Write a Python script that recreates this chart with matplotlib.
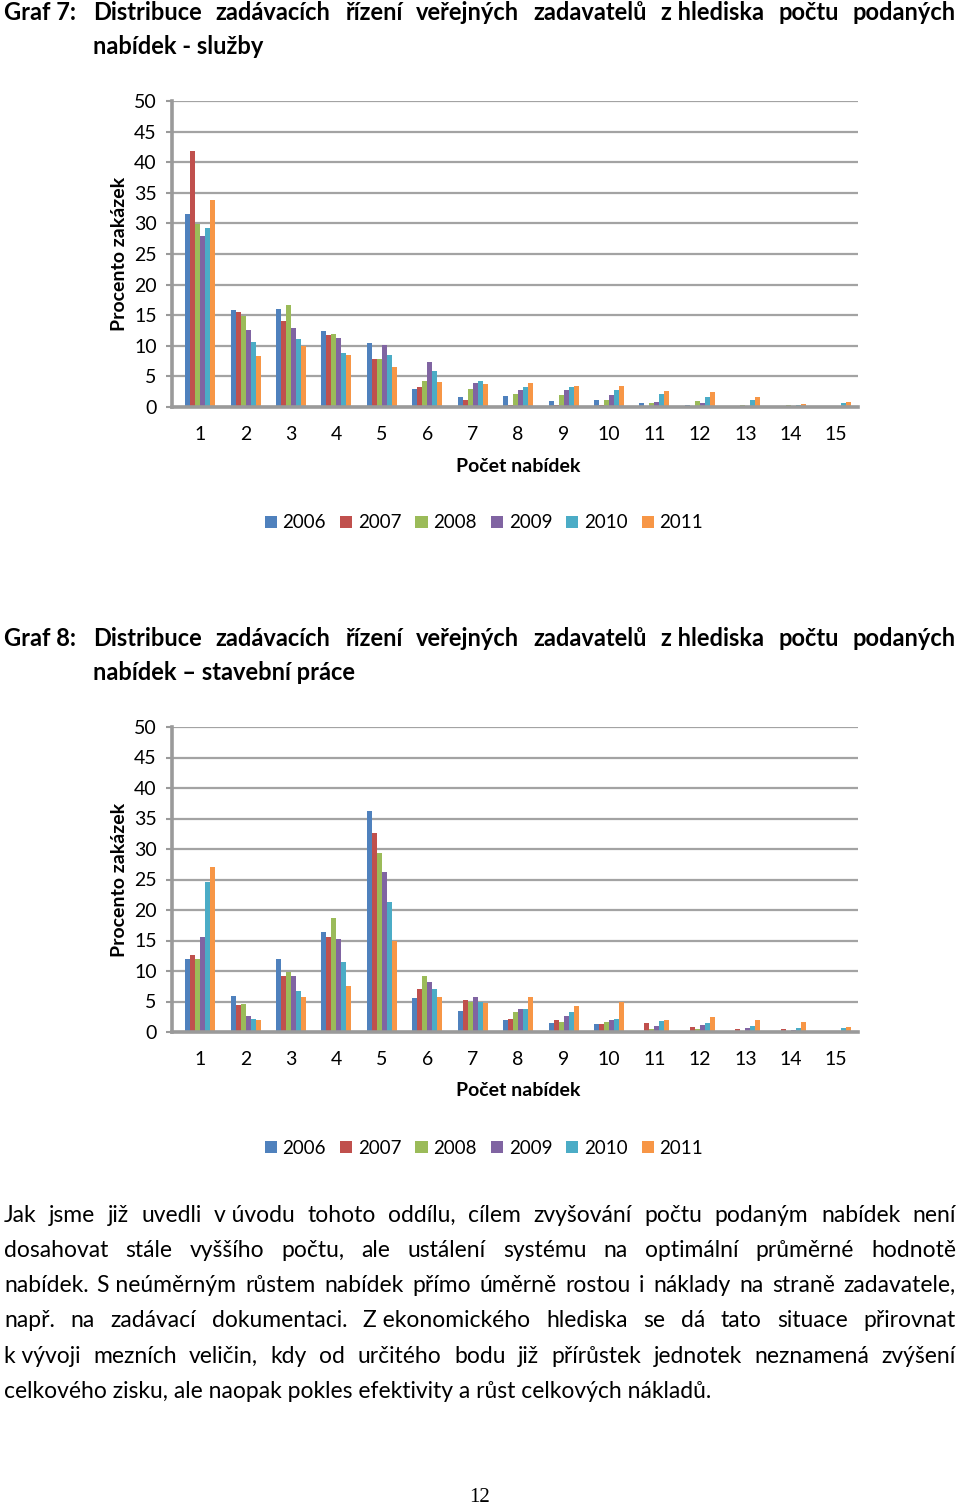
import matplotlib
matplotlib.use('Agg')
import matplotlib.pyplot as plt
import numpy as np

plt.rcParams['font.family'] = ['Lato', 'DejaVu Sans']

W, H = 960, 1509

categories = list(range(1, 16))
years = ['2006', '2007', '2008', '2009', '2010', '2011']
colors = ['#4F81BD', '#C0504D', '#9BBB59', '#8064A2', '#4BACC6', '#F79646']

# Graf 7 - sluzby (percent of contracts by number of offers 1..15)
sluzby_2006 = [31.6, 15.8, 16.0, 12.4, 10.4, 2.9, 1.7, 1.8, 0.9, 1.2, 0.6, 0.3, 0.1, 0.05, 0.05]
sluzby_2007 = [41.8, 15.6, 14.1, 11.7, 7.8, 3.3, 1.1, 0.3, 0.3, 0.3, 0.2, 0.1, 0.05, 0.05, 0.1]
sluzby_2008 = [29.9, 14.9, 16.6, 12.0, 7.8, 4.2, 2.9, 2.1, 2.0, 1.2, 0.6, 1.0, 0.4, 0.35, 0.1]
sluzby_2009 = [28.0, 12.6, 12.9, 11.2, 10.2, 7.3, 3.9, 2.7, 2.7, 2.0, 0.8, 0.7, 0.2, 0.1, 0.2]
sluzby_2010 = [29.2, 10.7, 11.1, 8.8, 8.5, 5.9, 4.3, 3.2, 3.2, 2.8, 2.1, 1.7, 1.2, 0.35, 0.6]
sluzby_2011 = [33.9, 8.4, 10.0, 8.5, 6.5, 4.1, 3.8, 3.9, 3.4, 3.5, 2.6, 2.4, 1.7, 0.45, 0.8]

# Graf 8 - stavebni prace
stavby_2006 = [11.9, 5.9, 11.9, 16.4, 36.2, 5.6, 3.4, 1.9, 1.5, 1.3, 0.1, 0.2, 0.1, 0.05, 0.05]
stavby_2007 = [12.7, 4.4, 9.2, 15.5, 32.7, 7.1, 5.3, 2.2, 1.9, 1.35, 1.4, 0.9, 0.5, 0.5, 0.1]
stavby_2008 = [12.0, 4.6, 9.9, 18.7, 29.3, 9.1, 4.9, 3.3, 1.7, 1.6, 0.5, 0.5, 0.2, 0.2, 0.05]
stavby_2009 = [15.6, 2.7, 9.2, 15.2, 26.3, 8.2, 5.8, 3.8, 2.6, 2.0, 1.0, 1.1, 0.7, 0.35, 0.2]
stavby_2010 = [24.6, 2.2, 6.8, 11.5, 21.3, 7.0, 4.9, 3.7, 3.3, 2.1, 1.8, 1.5, 1.0, 0.7, 0.7]
stavby_2011 = [27.0, 2.0, 5.7, 7.5, 14.9, 5.8, 4.7, 5.8, 4.3, 4.9, 1.9, 2.4, 2.0, 1.6, 0.9]

sluzby = [sluzby_2006, sluzby_2007, sluzby_2008, sluzby_2009, sluzby_2010, sluzby_2011]
stavby = [stavby_2006, stavby_2007, stavby_2008, stavby_2009, stavby_2010, stavby_2011]

title_words = ['Distribuce', 'zadávacích', 'řízení', 'veřejných', 'zadavatelů',
               'z hlediska', 'počtu', 'podaných']

paragraph = [
    'Jak jsme již uvedli v\u00a0úvodu tohoto oddílu, cílem zvyšování počtu podaným nabídek není',
    'dosahovat stále vyššího počtu, ale ustálení systému na optimální průměrné hodnotě',
    'nabídek. S\u00a0neúměrným růstem nabídek přímo úměrně rostou i náklady na straně zadavatele,',
    'např. na zadávací dokumentaci. Z\u00a0ekonomického hlediska se dá tato situace přirovnat',
    'k\u00a0vývoji mezních veličin, kdy od určitého bodu již přírůstek jednotek neznamená zvýšení',
    'celkového zisku, ale naopak pokles efektivity a růst celkových nákladů.',
]

fig = plt.figure(figsize=(W / 100, H / 100), dpi=100)
renderer = fig.canvas.get_renderer()


def ftext(x, y, s, **kw):
    return fig.text(x / W, 1 - y / H, s, **kw)


def justify(words, x0, x1, y, **kw):
    texts = [ftext(0, y, w.replace('\u00a0', ' '), va='center', **kw) for w in words]
    widths = [t.get_window_extent(renderer).width for t in texts]
    gap = (x1 - x0 - sum(widths)) / (len(words) - 1)
    x = x0
    for t, w in zip(texts, widths):
        t.set_x(x / W)
        x += w + gap


def chart(series, top, bottom, xlabel_y, legend_y):
    ax = fig.add_axes([172 / W, 1 - bottom / H, 686 / W, (bottom - top) / H])
    x = np.array(categories)
    bw = 0.11
    bars = []
    for i, vals in enumerate(series):
        b = ax.bar(x + (i - 2.5) * bw, vals, bw, color=colors[i], label=years[i])
        bars.append(b)
    ax.set_xlim(0.38, 15.48)
    ax.set_ylim(0, 50)
    ax.set_yticks(range(0, 51, 5))
    ax.set_xticks(categories)
    ax.yaxis.grid(True, color='#a3a3a3', lw=1.6)
    ax.set_axisbelow(True)
    for s in ['top', 'right']:
        ax.spines[s].set_visible(False)
    for s in ['left', 'bottom']:
        ax.spines[s].set_color('#9a9a9a')
        ax.spines[s].set_linewidth(2.6)
    ax.tick_params(axis='y', length=4, width=1.5, color='#9a9a9a', pad=7, labelsize=14)
    ax.tick_params(axis='x', length=0, pad=14, labelsize=14)
    ax.set_ylabel('Procento zakázek', fontsize=14, fontweight='bold', labelpad=4)
    ftext(518, xlabel_y, 'Počet nabídek', ha='center', va='center',
          fontsize=14, fontweight='bold')
    fig.legend(handles=bars, labels=years, loc='center', ncol=6, frameon=False,
               bbox_to_anchor=(484 / W, 1 - legend_y / H), fontsize=13.5,
               handlelength=0.65, handleheight=0.65, handletextpad=0.3,
               columnspacing=0.75)
    return ax


# Graf 7
ftext(4, 13, 'Graf 7:', va='center', fontsize=17, fontweight='bold')
justify(title_words, 93, 956, 13, fontsize=17, fontweight='bold')
ftext(93, 47, 'nabídek - služby', va='center', fontsize=17, fontweight='bold')
chart(sluzby, 101, 407, 466, 523)

# Graf 8
ftext(4, 638, 'Graf 8:', va='center', fontsize=17, fontweight='bold')
justify(title_words, 93, 956, 638, fontsize=17, fontweight='bold')
ftext(93, 672, 'nabídek – stavební práce', va='center', fontsize=17, fontweight='bold')
chart(stavby, 727, 1032, 1091, 1148)

# paragraph
y = 1215
for i, line in enumerate(paragraph):
    if i < len(paragraph) - 1:
        justify(line.split(' '), 4, 956, y, fontsize=16.5)
    else:
        ftext(4, y, line.replace('\u00a0', ' '), va='center', fontsize=16.5)
    y += 35.3

ftext(480, 1497, '12', ha='center', va='center', fontsize=15, family='Liberation Serif')

fig.savefig('out.png', dpi=100)
